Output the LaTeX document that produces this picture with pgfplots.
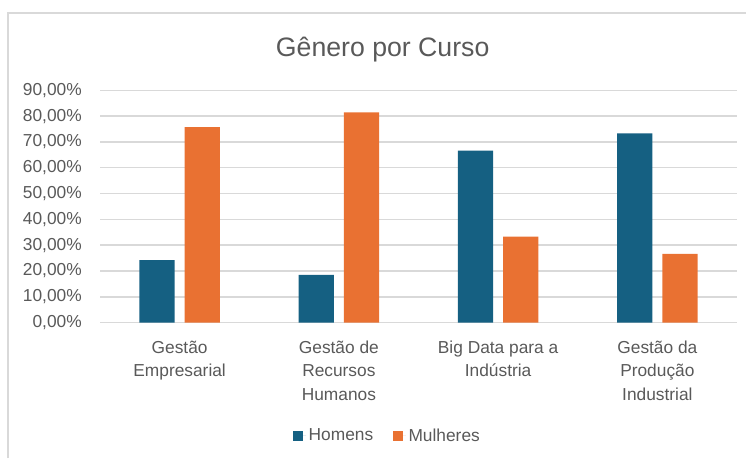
\documentclass[border=0pt]{standalone}
\usepackage{pgfplots}
\pgfplotsset{compat=1.18}
\usepackage{fontspec}
\setmainfont{Liberation Sans}
\definecolor{homens}{HTML}{156082}
\definecolor{mulheres}{HTML}{E97132}
\definecolor{txt}{HTML}{595959}
\definecolor{gridc}{HTML}{D9D9D9}
\begin{document}
\begin{tikzpicture}[x=1pt,y=1pt]
\draw[gridc, line width=1pt] (6,0) -- (6,333.75) -- (559.5,333.75);
\begin{axis}[
  at={(75pt,101.5pt)}, anchor=south west,
  scale only axis, width=477.75pt, height=174.3pt,
  ybar=7.5pt, bar width=26.5pt,
  xmin=-0.5, xmax=3.5, ymin=0, ymax=90,
  xtick={0,1,2,3},
  xticklabels={{\rule{0pt}{12pt}Gestão\\Empresarial},{\rule{0pt}{12pt}Gestão de\\Recursos\\Humanos},{\rule{0pt}{12pt}Big Data para a\\Indústria},{\rule{0pt}{12pt}Gestão da\\Produção\\Industrial}},
  ytick={0,10,...,90},
  yticklabels={{0,00\%},{10,00\%},{20,00\%},{30,00\%},{40,00\%},{50,00\%},{60,00\%},{70,00\%},{80,00\%},{90,00\%}},
  axis x line*=bottom, axis y line*=left,
  y axis line style={draw=none},
  x axis line style={gridc, line width=1pt, -},
  major tick length=0pt,
  ymajorgrids, grid style={gridc, line width=1.1pt},
  /pgf/number format/assume math mode=true,
  xticklabel style={font=\fontsize{13}{17.5}\selectfont, text=txt, align=center, anchor=north, inner sep=0pt, yshift=-11pt},
  yticklabel style={font=\fontsize{13}{15}\selectfont, text=txt, anchor=east, inner sep=0pt, xshift=-13.5pt},
  legend style={at={(0.452,-0.4875)}, anchor=center, draw=none, fill=none, legend columns=2,
    font=\fontsize{13}{15}\selectfont, text=txt,
    /tikz/every even column/.append style={column sep=13pt}},
  legend image code/.code={\fill[#1] (0pt,-3.75pt) rectangle (7.5pt,3.75pt); \path (0pt,0pt) -- (9.5pt,0pt);},
]
\addplot[fill=homens, draw=none] coordinates {(0,24.24) (1,18.52) (2,66.67) (3,73.33)};
\addplot[fill=mulheres, draw=none] coordinates {(0,75.76) (1,81.48) (2,33.33) (3,26.67)};
\legend{Homens, Mulheres}
\end{axis}
\node[anchor=base, font=\fontsize{20}{24}\selectfont, text=txt] at (287,301) {Gênero por Curso};
\pgfresetboundingbox
\path (0,0) rectangle (559.5,343.5);
\end{tikzpicture}
\end{document}
